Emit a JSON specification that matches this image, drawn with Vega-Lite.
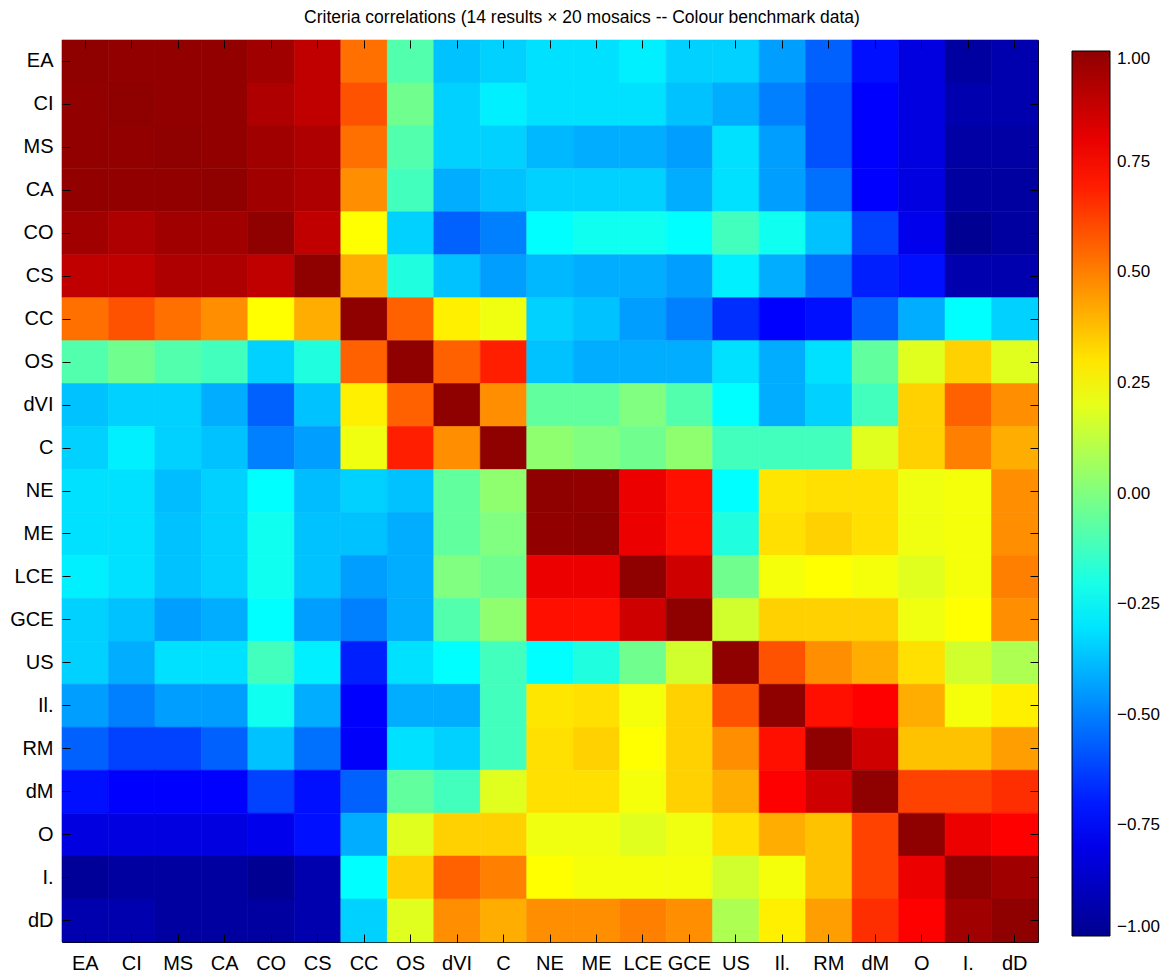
{
"$schema": "https://vega.github.io/schema/vega-lite/v6.json",
"width": 976, "height": 902,
"autosize": {"type": "none"},
"padding": {"left": 62, "top": 40, "right": 128, "bottom": 35},
"background": "white",
"title": {"text": "Criteria correlations (14 results × 20 mosaics -- Colour benchmark data)", "fontSize": 17.5, "font": "Liberation Sans", "fontWeight": "normal", "color": "black", "anchor": "middle", "offset": 13, "dx": 32},
"config": {
  "view": {"stroke": "black", "strokeWidth": 1},
  "axis": {"labelFont": "Liberation Sans", "labelFontSize": 20, "labelColor": "black", "title": null, "grid": false}
},
"data": {"values": [
{"r":"EA","c":"EA","v":1},{"r":"EA","c":"CI","v":0.99},{"r":"EA","c":"MS","v":0.99},{"r":"EA","c":"CA","v":0.99},{"r":"EA","c":"CO","v":0.96},{"r":"EA","c":"CS","v":0.89},{"r":"EA","c":"CC","v":0.53},{"r":"EA","c":"OS","v":-0.09},{"r":"EA","c":"dVI","v":-0.37},{"r":"EA","c":"C","v":-0.34},{"r":"EA","c":"NE","v":-0.31},{"r":"EA","c":"ME","v":-0.31},{"r":"EA","c":"LCE","v":-0.28},{"r":"EA","c":"GCE","v":-0.34},{"r":"EA","c":"US","v":-0.34},{"r":"EA","c":"Il.","v":-0.44},{"r":"EA","c":"RM","v":-0.56},{"r":"EA","c":"dM","v":-0.72},{"r":"EA","c":"O","v":-0.82},{"r":"EA","c":"I.","v":-0.96},{"r":"EA","c":"dD","v":-0.93},
{"r":"CI","c":"EA","v":0.99},{"r":"CI","c":"CI","v":1},{"r":"CI","c":"MS","v":0.99},{"r":"CI","c":"CA","v":0.99},{"r":"CI","c":"CO","v":0.93},{"r":"CI","c":"CS","v":0.89},{"r":"CI","c":"CC","v":0.59},{"r":"CI","c":"OS","v":-0.03},{"r":"CI","c":"dVI","v":-0.34},{"r":"CI","c":"C","v":-0.28},{"r":"CI","c":"NE","v":-0.31},{"r":"CI","c":"ME","v":-0.31},{"r":"CI","c":"LCE","v":-0.31},{"r":"CI","c":"GCE","v":-0.37},{"r":"CI","c":"US","v":-0.41},{"r":"CI","c":"Il.","v":-0.5},{"r":"CI","c":"RM","v":-0.59},{"r":"CI","c":"dM","v":-0.75},{"r":"CI","c":"O","v":-0.82},{"r":"CI","c":"I.","v":-0.93},{"r":"CI","c":"dD","v":-0.93},
{"r":"MS","c":"EA","v":0.99},{"r":"MS","c":"CI","v":0.99},{"r":"MS","c":"MS","v":1},{"r":"MS","c":"CA","v":0.99},{"r":"MS","c":"CO","v":0.96},{"r":"MS","c":"CS","v":0.93},{"r":"MS","c":"CC","v":0.53},{"r":"MS","c":"OS","v":-0.09},{"r":"MS","c":"dVI","v":-0.34},{"r":"MS","c":"C","v":-0.34},{"r":"MS","c":"NE","v":-0.39},{"r":"MS","c":"ME","v":-0.41},{"r":"MS","c":"LCE","v":-0.41},{"r":"MS","c":"GCE","v":-0.44},{"r":"MS","c":"US","v":-0.31},{"r":"MS","c":"Il.","v":-0.44},{"r":"MS","c":"RM","v":-0.59},{"r":"MS","c":"dM","v":-0.75},{"r":"MS","c":"O","v":-0.82},{"r":"MS","c":"I.","v":-0.95},{"r":"MS","c":"dD","v":-0.95},
{"r":"CA","c":"EA","v":0.99},{"r":"CA","c":"CI","v":0.99},{"r":"CA","c":"MS","v":0.99},{"r":"CA","c":"CA","v":1},{"r":"CA","c":"CO","v":0.96},{"r":"CA","c":"CS","v":0.93},{"r":"CA","c":"CC","v":0.47},{"r":"CA","c":"OS","v":-0.12},{"r":"CA","c":"dVI","v":-0.41},{"r":"CA","c":"C","v":-0.37},{"r":"CA","c":"NE","v":-0.34},{"r":"CA","c":"ME","v":-0.34},{"r":"CA","c":"LCE","v":-0.34},{"r":"CA","c":"GCE","v":-0.41},{"r":"CA","c":"US","v":-0.31},{"r":"CA","c":"Il.","v":-0.44},{"r":"CA","c":"RM","v":-0.53},{"r":"CA","c":"dM","v":-0.75},{"r":"CA","c":"O","v":-0.82},{"r":"CA","c":"I.","v":-0.96},{"r":"CA","c":"dD","v":-0.96},
{"r":"CO","c":"EA","v":0.96},{"r":"CO","c":"CI","v":0.93},{"r":"CO","c":"MS","v":0.96},{"r":"CO","c":"CA","v":0.96},{"r":"CO","c":"CO","v":1},{"r":"CO","c":"CS","v":0.89},{"r":"CO","c":"CC","v":0.25},{"r":"CO","c":"OS","v":-0.34},{"r":"CO","c":"dVI","v":-0.56},{"r":"CO","c":"C","v":-0.5},{"r":"CO","c":"NE","v":-0.25},{"r":"CO","c":"ME","v":-0.22},{"r":"CO","c":"LCE","v":-0.22},{"r":"CO","c":"GCE","v":-0.25},{"r":"CO","c":"US","v":-0.12},{"r":"CO","c":"Il.","v":-0.22},{"r":"CO","c":"RM","v":-0.37},{"r":"CO","c":"dM","v":-0.62},{"r":"CO","c":"O","v":-0.79},{"r":"CO","c":"I.","v":-0.99},{"r":"CO","c":"dD","v":-0.96},
{"r":"CS","c":"EA","v":0.89},{"r":"CS","c":"CI","v":0.89},{"r":"CS","c":"MS","v":0.93},{"r":"CS","c":"CA","v":0.93},{"r":"CS","c":"CO","v":0.89},{"r":"CS","c":"CS","v":1},{"r":"CS","c":"CC","v":0.41},{"r":"CS","c":"OS","v":-0.19},{"r":"CS","c":"dVI","v":-0.37},{"r":"CS","c":"C","v":-0.44},{"r":"CS","c":"NE","v":-0.39},{"r":"CS","c":"ME","v":-0.41},{"r":"CS","c":"LCE","v":-0.41},{"r":"CS","c":"GCE","v":-0.44},{"r":"CS","c":"US","v":-0.28},{"r":"CS","c":"Il.","v":-0.41},{"r":"CS","c":"RM","v":-0.53},{"r":"CS","c":"dM","v":-0.69},{"r":"CS","c":"O","v":-0.72},{"r":"CS","c":"I.","v":-0.93},{"r":"CS","c":"dD","v":-0.93},
{"r":"CC","c":"EA","v":0.53},{"r":"CC","c":"CI","v":0.59},{"r":"CC","c":"MS","v":0.53},{"r":"CC","c":"CA","v":0.47},{"r":"CC","c":"CO","v":0.25},{"r":"CC","c":"CS","v":0.41},{"r":"CC","c":"CC","v":1},{"r":"CC","c":"OS","v":0.56},{"r":"CC","c":"dVI","v":0.28},{"r":"CC","c":"C","v":0.22},{"r":"CC","c":"NE","v":-0.34},{"r":"CC","c":"ME","v":-0.37},{"r":"CC","c":"LCE","v":-0.44},{"r":"CC","c":"GCE","v":-0.5},{"r":"CC","c":"US","v":-0.66},{"r":"CC","c":"Il.","v":-0.75},{"r":"CC","c":"RM","v":-0.72},{"r":"CC","c":"dM","v":-0.56},{"r":"CC","c":"O","v":-0.41},{"r":"CC","c":"I.","v":-0.25},{"r":"CC","c":"dD","v":-0.34},
{"r":"OS","c":"EA","v":-0.09},{"r":"OS","c":"CI","v":-0.03},{"r":"OS","c":"MS","v":-0.09},{"r":"OS","c":"CA","v":-0.12},{"r":"OS","c":"CO","v":-0.34},{"r":"OS","c":"CS","v":-0.19},{"r":"OS","c":"CC","v":0.56},{"r":"OS","c":"OS","v":1},{"r":"OS","c":"dVI","v":0.56},{"r":"OS","c":"C","v":0.69},{"r":"OS","c":"NE","v":-0.37},{"r":"OS","c":"ME","v":-0.41},{"r":"OS","c":"LCE","v":-0.41},{"r":"OS","c":"GCE","v":-0.41},{"r":"OS","c":"US","v":-0.31},{"r":"OS","c":"Il.","v":-0.41},{"r":"OS","c":"RM","v":-0.31},{"r":"OS","c":"dM","v":-0.06},{"r":"OS","c":"O","v":0.19},{"r":"OS","c":"I.","v":0.34},{"r":"OS","c":"dD","v":0.19},
{"r":"dVI","c":"EA","v":-0.37},{"r":"dVI","c":"CI","v":-0.34},{"r":"dVI","c":"MS","v":-0.34},{"r":"dVI","c":"CA","v":-0.41},{"r":"dVI","c":"CO","v":-0.56},{"r":"dVI","c":"CS","v":-0.37},{"r":"dVI","c":"CC","v":0.28},{"r":"dVI","c":"OS","v":0.56},{"r":"dVI","c":"dVI","v":1},{"r":"dVI","c":"C","v":0.47},{"r":"dVI","c":"NE","v":-0.06},{"r":"dVI","c":"ME","v":-0.06},{"r":"dVI","c":"LCE","v":0.0},{"r":"dVI","c":"GCE","v":-0.09},{"r":"dVI","c":"US","v":-0.25},{"r":"dVI","c":"Il.","v":-0.41},{"r":"dVI","c":"RM","v":-0.34},{"r":"dVI","c":"dM","v":-0.12},{"r":"dVI","c":"O","v":0.34},{"r":"dVI","c":"I.","v":0.56},{"r":"dVI","c":"dD","v":0.47},
{"r":"C","c":"EA","v":-0.34},{"r":"C","c":"CI","v":-0.28},{"r":"C","c":"MS","v":-0.34},{"r":"C","c":"CA","v":-0.37},{"r":"C","c":"CO","v":-0.5},{"r":"C","c":"CS","v":-0.44},{"r":"C","c":"CC","v":0.22},{"r":"C","c":"OS","v":0.69},{"r":"C","c":"dVI","v":0.47},{"r":"C","c":"C","v":1},{"r":"C","c":"NE","v":0.03},{"r":"C","c":"ME","v":0.0},{"r":"C","c":"LCE","v":-0.03},{"r":"C","c":"GCE","v":0.03},{"r":"C","c":"US","v":-0.12},{"r":"C","c":"Il.","v":-0.12},{"r":"C","c":"RM","v":-0.12},{"r":"C","c":"dM","v":0.19},{"r":"C","c":"O","v":0.34},{"r":"C","c":"I.","v":0.5},{"r":"C","c":"dD","v":0.41},
{"r":"NE","c":"EA","v":-0.31},{"r":"NE","c":"CI","v":-0.31},{"r":"NE","c":"MS","v":-0.38},{"r":"NE","c":"CA","v":-0.34},{"r":"NE","c":"CO","v":-0.25},{"r":"NE","c":"CS","v":-0.38},{"r":"NE","c":"CC","v":-0.34},{"r":"NE","c":"OS","v":-0.37},{"r":"NE","c":"dVI","v":-0.06},{"r":"NE","c":"C","v":0.03},{"r":"NE","c":"NE","v":1},{"r":"NE","c":"ME","v":0.99},{"r":"NE","c":"LCE","v":0.79},{"r":"NE","c":"GCE","v":0.72},{"r":"NE","c":"US","v":-0.25},{"r":"NE","c":"Il.","v":0.3},{"r":"NE","c":"RM","v":0.31},{"r":"NE","c":"dM","v":0.31},{"r":"NE","c":"O","v":0.22},{"r":"NE","c":"I.","v":0.23},{"r":"NE","c":"dD","v":0.47},
{"r":"ME","c":"EA","v":-0.31},{"r":"ME","c":"CI","v":-0.31},{"r":"ME","c":"MS","v":-0.37},{"r":"ME","c":"CA","v":-0.34},{"r":"ME","c":"CO","v":-0.22},{"r":"ME","c":"CS","v":-0.37},{"r":"ME","c":"CC","v":-0.37},{"r":"ME","c":"OS","v":-0.41},{"r":"ME","c":"dVI","v":-0.06},{"r":"ME","c":"C","v":0.0},{"r":"ME","c":"NE","v":0.99},{"r":"ME","c":"ME","v":1},{"r":"ME","c":"LCE","v":0.79},{"r":"ME","c":"GCE","v":0.72},{"r":"ME","c":"US","v":-0.19},{"r":"ME","c":"Il.","v":0.31},{"r":"ME","c":"RM","v":0.34},{"r":"ME","c":"dM","v":0.31},{"r":"ME","c":"O","v":0.22},{"r":"ME","c":"I.","v":0.23},{"r":"ME","c":"dD","v":0.47},
{"r":"LCE","c":"EA","v":-0.28},{"r":"LCE","c":"CI","v":-0.31},{"r":"LCE","c":"MS","v":-0.37},{"r":"LCE","c":"CA","v":-0.34},{"r":"LCE","c":"CO","v":-0.22},{"r":"LCE","c":"CS","v":-0.37},{"r":"LCE","c":"CC","v":-0.44},{"r":"LCE","c":"OS","v":-0.41},{"r":"LCE","c":"dVI","v":0.0},{"r":"LCE","c":"C","v":-0.03},{"r":"LCE","c":"NE","v":0.79},{"r":"LCE","c":"ME","v":0.79},{"r":"LCE","c":"LCE","v":1},{"r":"LCE","c":"GCE","v":0.86},{"r":"LCE","c":"US","v":-0.03},{"r":"LCE","c":"Il.","v":0.23},{"r":"LCE","c":"RM","v":0.25},{"r":"LCE","c":"dM","v":0.23},{"r":"LCE","c":"O","v":0.19},{"r":"LCE","c":"I.","v":0.23},{"r":"LCE","c":"dD","v":0.5},
{"r":"GCE","c":"EA","v":-0.34},{"r":"GCE","c":"CI","v":-0.37},{"r":"GCE","c":"MS","v":-0.44},{"r":"GCE","c":"CA","v":-0.41},{"r":"GCE","c":"CO","v":-0.25},{"r":"GCE","c":"CS","v":-0.44},{"r":"GCE","c":"CC","v":-0.5},{"r":"GCE","c":"OS","v":-0.41},{"r":"GCE","c":"dVI","v":-0.09},{"r":"GCE","c":"C","v":0.03},{"r":"GCE","c":"NE","v":0.72},{"r":"GCE","c":"ME","v":0.72},{"r":"GCE","c":"LCE","v":0.86},{"r":"GCE","c":"GCE","v":1},{"r":"GCE","c":"US","v":0.16},{"r":"GCE","c":"Il.","v":0.34},{"r":"GCE","c":"RM","v":0.34},{"r":"GCE","c":"dM","v":0.34},{"r":"GCE","c":"O","v":0.22},{"r":"GCE","c":"I.","v":0.25},{"r":"GCE","c":"dD","v":0.47},
{"r":"US","c":"EA","v":-0.34},{"r":"US","c":"CI","v":-0.41},{"r":"US","c":"MS","v":-0.31},{"r":"US","c":"CA","v":-0.31},{"r":"US","c":"CO","v":-0.12},{"r":"US","c":"CS","v":-0.28},{"r":"US","c":"CC","v":-0.69},{"r":"US","c":"OS","v":-0.31},{"r":"US","c":"dVI","v":-0.25},{"r":"US","c":"C","v":-0.12},{"r":"US","c":"NE","v":-0.25},{"r":"US","c":"ME","v":-0.19},{"r":"US","c":"LCE","v":-0.03},{"r":"US","c":"GCE","v":0.16},{"r":"US","c":"US","v":1},{"r":"US","c":"Il.","v":0.59},{"r":"US","c":"RM","v":0.47},{"r":"US","c":"dM","v":0.41},{"r":"US","c":"O","v":0.31},{"r":"US","c":"I.","v":0.16},{"r":"US","c":"dD","v":0.09},
{"r":"Il.","c":"EA","v":-0.44},{"r":"Il.","c":"CI","v":-0.5},{"r":"Il.","c":"MS","v":-0.44},{"r":"Il.","c":"CA","v":-0.44},{"r":"Il.","c":"CO","v":-0.22},{"r":"Il.","c":"CS","v":-0.41},{"r":"Il.","c":"CC","v":-0.75},{"r":"Il.","c":"OS","v":-0.41},{"r":"Il.","c":"dVI","v":-0.41},{"r":"Il.","c":"C","v":-0.12},{"r":"Il.","c":"NE","v":0.3},{"r":"Il.","c":"ME","v":0.31},{"r":"Il.","c":"LCE","v":0.23},{"r":"Il.","c":"GCE","v":0.34},{"r":"Il.","c":"US","v":0.59},{"r":"Il.","c":"Il.","v":1},{"r":"Il.","c":"RM","v":0.72},{"r":"Il.","c":"dM","v":0.75},{"r":"Il.","c":"O","v":0.41},{"r":"Il.","c":"I.","v":0.23},{"r":"Il.","c":"dD","v":0.28},
{"r":"RM","c":"EA","v":-0.56},{"r":"RM","c":"CI","v":-0.62},{"r":"RM","c":"MS","v":-0.62},{"r":"RM","c":"CA","v":-0.56},{"r":"RM","c":"CO","v":-0.37},{"r":"RM","c":"CS","v":-0.53},{"r":"RM","c":"CC","v":-0.76},{"r":"RM","c":"OS","v":-0.31},{"r":"RM","c":"dVI","v":-0.34},{"r":"RM","c":"C","v":-0.12},{"r":"RM","c":"NE","v":0.31},{"r":"RM","c":"ME","v":0.34},{"r":"RM","c":"LCE","v":0.25},{"r":"RM","c":"GCE","v":0.34},{"r":"RM","c":"US","v":0.47},{"r":"RM","c":"Il.","v":0.72},{"r":"RM","c":"RM","v":1},{"r":"RM","c":"dM","v":0.86},{"r":"RM","c":"O","v":0.37},{"r":"RM","c":"I.","v":0.37},{"r":"RM","c":"dD","v":0.44},
{"r":"dM","c":"EA","v":-0.72},{"r":"dM","c":"CI","v":-0.75},{"r":"dM","c":"MS","v":-0.75},{"r":"dM","c":"CA","v":-0.75},{"r":"dM","c":"CO","v":-0.62},{"r":"dM","c":"CS","v":-0.72},{"r":"dM","c":"CC","v":-0.56},{"r":"dM","c":"OS","v":-0.06},{"r":"dM","c":"dVI","v":-0.12},{"r":"dM","c":"C","v":0.19},{"r":"dM","c":"NE","v":0.31},{"r":"dM","c":"ME","v":0.31},{"r":"dM","c":"LCE","v":0.23},{"r":"dM","c":"GCE","v":0.34},{"r":"dM","c":"US","v":0.41},{"r":"dM","c":"Il.","v":0.75},{"r":"dM","c":"RM","v":0.86},{"r":"dM","c":"dM","v":1},{"r":"dM","c":"O","v":0.62},{"r":"dM","c":"I.","v":0.62},{"r":"dM","c":"dD","v":0.66},
{"r":"O","c":"EA","v":-0.82},{"r":"O","c":"CI","v":-0.82},{"r":"O","c":"MS","v":-0.82},{"r":"O","c":"CA","v":-0.82},{"r":"O","c":"CO","v":-0.79},{"r":"O","c":"CS","v":-0.72},{"r":"O","c":"CC","v":-0.41},{"r":"O","c":"OS","v":0.19},{"r":"O","c":"dVI","v":0.34},{"r":"O","c":"C","v":0.34},{"r":"O","c":"NE","v":0.22},{"r":"O","c":"ME","v":0.22},{"r":"O","c":"LCE","v":0.19},{"r":"O","c":"GCE","v":0.22},{"r":"O","c":"US","v":0.31},{"r":"O","c":"Il.","v":0.41},{"r":"O","c":"RM","v":0.37},{"r":"O","c":"dM","v":0.62},{"r":"O","c":"O","v":1},{"r":"O","c":"I.","v":0.79},{"r":"O","c":"dD","v":0.75},
{"r":"I.","c":"EA","v":-0.98},{"r":"I.","c":"CI","v":-0.96},{"r":"I.","c":"MS","v":-0.96},{"r":"I.","c":"CA","v":-0.96},{"r":"I.","c":"CO","v":-0.99},{"r":"I.","c":"CS","v":-0.93},{"r":"I.","c":"CC","v":-0.25},{"r":"I.","c":"OS","v":0.34},{"r":"I.","c":"dVI","v":0.56},{"r":"I.","c":"C","v":0.5},{"r":"I.","c":"NE","v":0.25},{"r":"I.","c":"ME","v":0.23},{"r":"I.","c":"LCE","v":0.23},{"r":"I.","c":"GCE","v":0.23},{"r":"I.","c":"US","v":0.16},{"r":"I.","c":"Il.","v":0.23},{"r":"I.","c":"RM","v":0.37},{"r":"I.","c":"dM","v":0.62},{"r":"I.","c":"O","v":0.79},{"r":"I.","c":"I.","v":1},{"r":"I.","c":"dD","v":0.96},
{"r":"dD","c":"EA","v":-0.93},{"r":"dD","c":"CI","v":-0.93},{"r":"dD","c":"MS","v":-0.96},{"r":"dD","c":"CA","v":-0.96},{"r":"dD","c":"CO","v":-0.96},{"r":"dD","c":"CS","v":-0.93},{"r":"dD","c":"CC","v":-0.34},{"r":"dD","c":"OS","v":0.19},{"r":"dD","c":"dVI","v":0.47},{"r":"dD","c":"C","v":0.41},{"r":"dD","c":"NE","v":0.47},{"r":"dD","c":"ME","v":0.47},{"r":"dD","c":"LCE","v":0.5},{"r":"dD","c":"GCE","v":0.47},{"r":"dD","c":"US","v":0.09},{"r":"dD","c":"Il.","v":0.28},{"r":"dD","c":"RM","v":0.44},{"r":"dD","c":"dM","v":0.66},{"r":"dD","c":"O","v":0.75},{"r":"dD","c":"I.","v":0.96},{"r":"dD","c":"dD","v":1}
]},
"layer": [
  {
    "mark": {"type": "rect", "strokeWidth": 0.6, "stroke": {"expr": "scale('color', datum.v)"}},
    "encoding": {
      "x": {"field": "c", "type": "nominal", "sort": ["EA","CI","MS","CA","CO","CS","CC","OS","dVI","C","NE","ME","LCE","GCE","US","Il.","RM","dM","O","I.","dD"], "scale": {"paddingInner": 0, "paddingOuter": 0}, "axis": {"orient": "bottom", "labelAngle": 0, "labelPadding": 11, "ticks": true, "tickSize": 8, "offset": -8, "tickColor": "black", "tickWidth": 1, "domain": false, "zindex": 1}},
      "y": {"field": "r", "type": "nominal", "sort": ["EA","CI","MS","CA","CO","CS","CC","OS","dVI","C","NE","ME","LCE","GCE","US","Il.","RM","dM","O","I.","dD"], "scale": {"paddingInner": 0, "paddingOuter": 0}, "axis": {"orient": "left", "labelPadding": 9, "ticks": true, "tickSize": 8, "offset": -8, "tickColor": "black", "tickWidth": 1, "domain": false, "zindex": 1}},
      "color": {"field": "v", "type": "quantitative",
        "scale": {"domain": [-1, -0.75, -0.25, 0.25, 0.75, 1], "range": ["#00008f", "#0000ff", "#00ffff", "#ffff00", "#ff0000", "#8f0000"], "interpolate": "rgb"},
        "legend": {"orient": "none", "legendX": 1010, "legendY": 11, "direction": "vertical", "gradientLength": 885, "gradientThickness": 38, "title": null, "values": [-1, -0.75, -0.5, -0.25, 0, 0.25, 0.5, 0.75, 1], "format": ".2f", "labelFont": "Liberation Sans", "labelFontSize": 17, "labelColor": "black", "labelOffset": 7, "labelBaseline": "middle", "labelOverlap": false, "gradientStrokeColor": "black", "gradientStrokeWidth": 1, "padding": 0}}
    }
  },
  {
    "mark": {"type": "rect", "opacity": 0},
    "encoding": {
      "x": {"field": "c", "type": "nominal", "sort": ["EA","CI","MS","CA","CO","CS","CC","OS","dVI","C","NE","ME","LCE","GCE","US","Il.","RM","dM","O","I.","dD"], "axis": {"orient": "top", "labels": false, "ticks": true, "tickSize": 8, "offset": -8, "tickColor": "black", "tickWidth": 1, "domain": false, "zindex": 1}},
      "y": {"field": "r", "type": "nominal", "sort": ["EA","CI","MS","CA","CO","CS","CC","OS","dVI","C","NE","ME","LCE","GCE","US","Il.","RM","dM","O","I.","dD"], "axis": {"orient": "right", "labels": false, "ticks": true, "tickSize": 8, "offset": -8, "tickColor": "black", "tickWidth": 1, "domain": false, "zindex": 1}}
    }
  }
],
"resolve": {"axis": {"x": "independent", "y": "independent"}}
}
